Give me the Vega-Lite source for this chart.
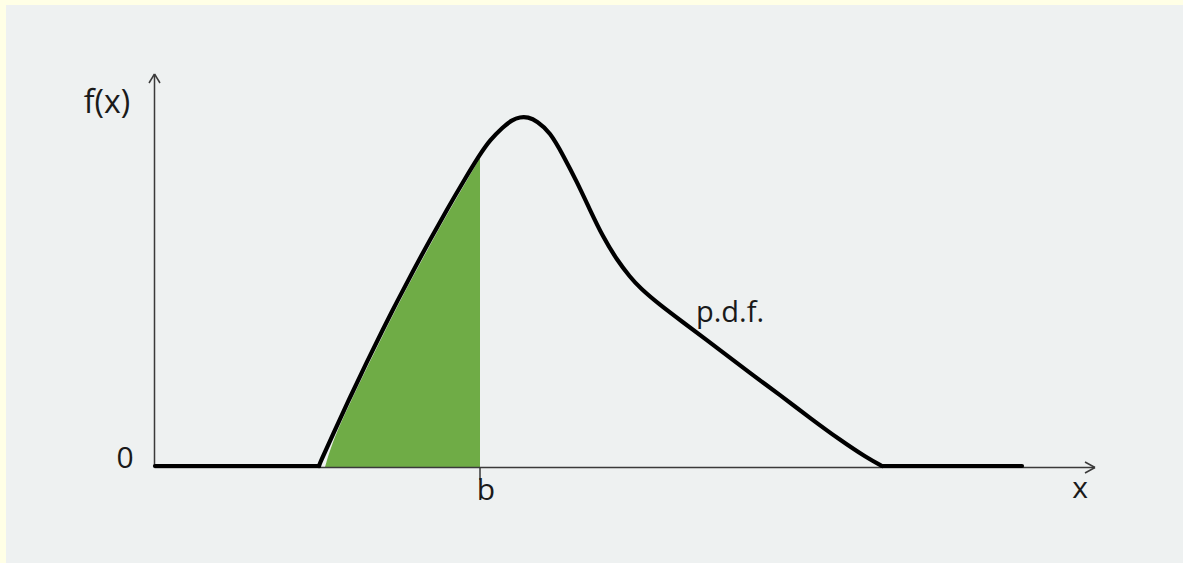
{
  "$schema": "https://vega.github.io/schema/vega-lite/v6.json",
  "width": 1183,
  "height": 563,
  "autosize": {"type": "fit", "contains": "padding"},
  "padding": {"left": 6, "top": 5, "right": 0, "bottom": 0},
  "background": "#FFFFE6",
  "config": {"view": {"stroke": null, "fill": "#EEF1F1"}},
  "datasets": {
    "curve": [
      {"seg": "a", "x": 0, "y": 0.1}, {"seg": "a", "x": 16.4, "y": 0.1},
      {"seg": "b", "x": 16.4, "y": 0.1}, {"seg": "b", "x": 16.5, "y": 0.4}, {"seg": "b", "x": 17.8, "y": 3.29},
      {"seg": "b", "x": 19.5, "y": 6.97}, {"seg": "b", "x": 21.2, "y": 10.53}, {"seg": "b", "x": 22.8, "y": 13.78},
      {"seg": "b", "x": 24.2, "y": 16.54}, {"seg": "b", "x": 25.8, "y": 19.59}, {"seg": "b", "x": 27.5, "y": 22.73},
      {"seg": "b", "x": 29.2, "y": 25.75}, {"seg": "b", "x": 30.8, "y": 28.49}, {"seg": "b", "x": 32.5, "y": 31.28},
      {"seg": "b", "x": 33.5, "y": 32.7}, {"seg": "b", "x": 34.8, "y": 34.0}, {"seg": "b", "x": 35.7, "y": 34.7},
      {"seg": "b", "x": 36.5, "y": 35.0}, {"seg": "b", "x": 37.3, "y": 35.0}, {"seg": "b", "x": 38.2, "y": 34.6},
      {"seg": "b", "x": 39.5, "y": 33.5}, {"seg": "b", "x": 40.8, "y": 31.2}, {"seg": "b", "x": 42.2, "y": 28.5},
      {"seg": "b", "x": 43.5, "y": 25.7}, {"seg": "b", "x": 44.8, "y": 23.0}, {"seg": "b", "x": 46.2, "y": 20.7},
      {"seg": "b", "x": 47.5, "y": 19.0}, {"seg": "b", "x": 48.5, "y": 17.9}, {"seg": "b", "x": 50.5, "y": 16.2},
      {"seg": "b", "x": 52.5, "y": 14.7}, {"seg": "b", "x": 56.5, "y": 11.7}, {"seg": "b", "x": 59.5, "y": 9.4},
      {"seg": "b", "x": 62.5, "y": 7.2}, {"seg": "b", "x": 65.5, "y": 4.9}, {"seg": "b", "x": 68.5, "y": 2.7},
      {"seg": "b", "x": 71.2, "y": 0.9}, {"seg": "b", "x": 72.7, "y": 0.1},
      {"seg": "c", "x": 72.7, "y": 0.1}, {"seg": "c", "x": 86.7, "y": 0.1}
    ],
    "shade": [
      {"x": 17.0, "y": 0}, {"x": 17.8, "y": 2.7}, {"x": 19.5, "y": 6.4}, {"x": 21.2, "y": 9.95},
      {"x": 22.8, "y": 13.2}, {"x": 24.2, "y": 16.0}, {"x": 25.8, "y": 19.05}, {"x": 27.5, "y": 22.2},
      {"x": 29.2, "y": 25.25}, {"x": 30.8, "y": 28.0}, {"x": 32.5, "y": 30.9}
    ],
    "segs": [
      {"x": -0.05, "y": -0.05, "x2": -0.05, "y2": 39.3},
      {"x": -0.05, "y": -0.05, "x2": 94.0, "y2": -0.05},
      {"x": -0.6, "y": 38.4, "x2": -0.05, "y2": 39.3},
      {"x": 0.5, "y": 38.4, "x2": -0.05, "y2": 39.3},
      {"x": 93.0, "y": 0.5, "x2": 94.0, "y2": -0.05},
      {"x": 93.0, "y": -0.6, "x2": 94.0, "y2": -0.05},
      {"x": 32.5, "y": -0.05, "x2": 32.5, "y2": -1.3}
    ],
    "labels": [
      {"label": "f(x)", "x": -4.8, "y": 35.4, "size": 32},
      {"label": "0", "x": -3.0, "y": -0.1, "size": 30},
      {"label": "b", "x": 33.1, "y": -3.3, "size": 30},
      {"label": "x", "x": 92.5, "y": -3.1, "size": 30},
      {"label": "p.d.f.", "x": 57.5, "y": 14.5, "size": 29}
    ]
  },
  "layer": [
    {
      "data": {"name": "shade"},
      "mark": {"type": "area", "interpolate": "basis", "color": "#6FAC46", "opacity": 1},
      "encoding": {
        "x": {"field": "x", "type": "quantitative", "scale": {"domain": [-14.9, 102.8], "nice": false, "zero": false}, "axis": null},
        "y": {"field": "y", "type": "quantitative", "scale": {"domain": [-9.6, 46.2], "nice": false, "zero": false}, "axis": null},
        "y2": {"datum": 0}
      }
    },
    {
      "data": {"name": "segs"},
      "mark": {"type": "rule", "color": "#3A3A3A", "strokeWidth": 1.5},
      "encoding": {
        "x": {"field": "x", "type": "quantitative"},
        "y": {"field": "y", "type": "quantitative"},
        "x2": {"field": "x2"},
        "y2": {"field": "y2"}
      }
    },
    {
      "data": {"name": "curve"},
      "mark": {"type": "line", "interpolate": "basis", "color": "#000000", "strokeWidth": 4.2, "strokeCap": "round", "strokeJoin": "round"},
      "encoding": {
        "x": {"field": "x", "type": "quantitative"},
        "y": {"field": "y", "type": "quantitative"},
        "detail": {"field": "seg"}
      }
    },
    {
      "data": {"name": "labels"},
      "mark": {"type": "text", "font": "Open Sans", "color": "#1A1A1A", "align": "center", "baseline": "alphabetic"},
      "encoding": {
        "x": {"field": "x", "type": "quantitative"},
        "y": {"field": "y", "type": "quantitative"},
        "text": {"field": "label"},
        "size": {"field": "size", "type": "quantitative", "scale": null}
      }
    }
  ]
}
